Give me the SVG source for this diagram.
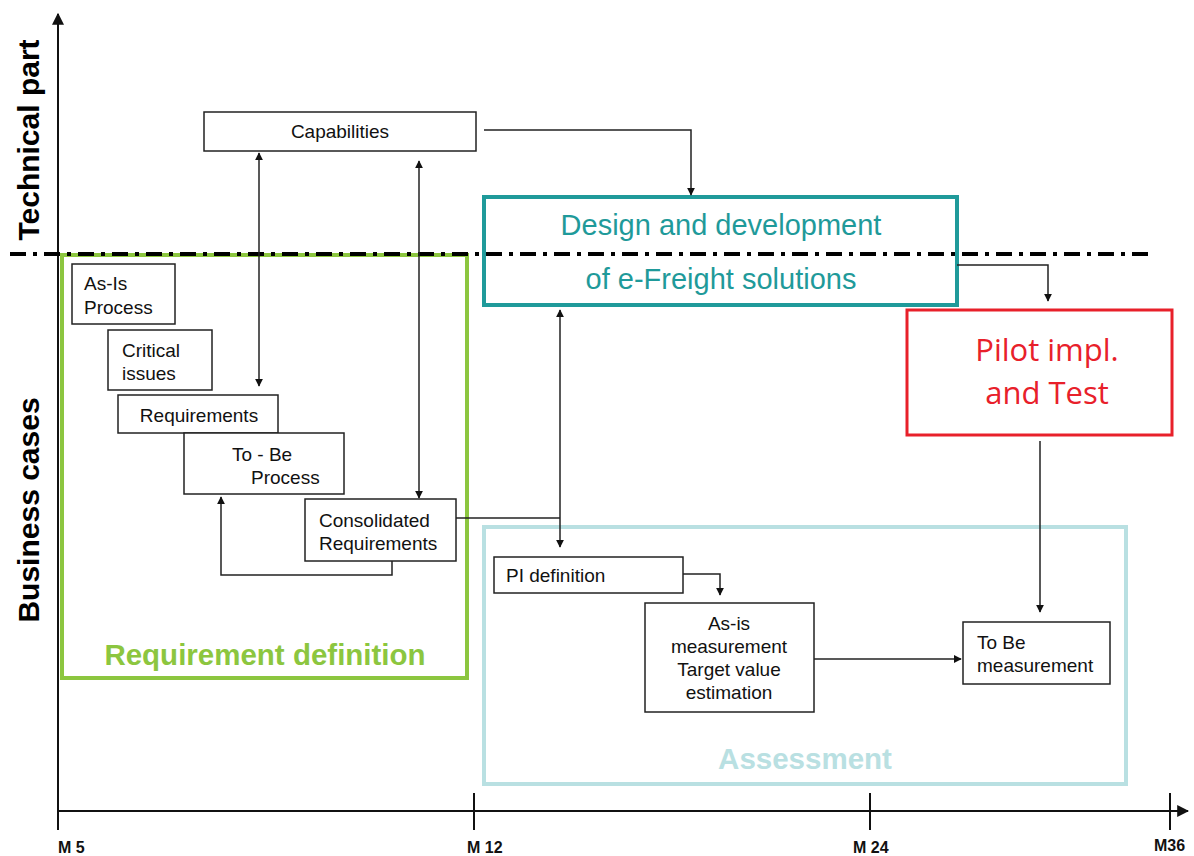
<svg xmlns="http://www.w3.org/2000/svg" width="1194" height="856" viewBox="0 0 1194 856">
<defs>
<marker id="ah" viewBox="0 0 10 10" refX="9" refY="5" markerWidth="8" markerHeight="8" markerUnits="userSpaceOnUse" orient="auto-start-reverse"><path d="M0,0 L10,5 L0,10 z" fill="#111"/></marker>
<marker id="axh" viewBox="0 0 10 10" refX="9" refY="5" markerWidth="12" markerHeight="12" markerUnits="userSpaceOnUse" orient="auto"><path d="M0,0 L10,5 L0,10 z" fill="#111"/></marker>
</defs>
<style>
.box{fill:#fff;stroke:#222;stroke-width:1.5}
.t{font-family:"Liberation Sans",Arial,sans-serif;font-size:19px;fill:#111}
.c{stroke:#222;stroke-width:1.5;fill:none}
.ax{stroke:#111;stroke-width:2;fill:none}
.lab{font-family:"Liberation Sans",Arial,sans-serif;font-weight:bold;font-size:30px;fill:#000}
.ml{font-family:"Liberation Sans",Arial,sans-serif;font-weight:bold;font-size:16px;fill:#111}
.big{font-family:"Liberation Sans",Arial,sans-serif;font-size:29px}
.pil{font-family:"Open Sans","Liberation Sans",sans-serif;font-size:31px;fill:#e8202a}
</style>
<rect width="1194" height="856" fill="#fff"/>
<g id="axes">
<line class="ax" x1="58" y1="830" x2="58" y2="14" marker-end="url(#axh)"/>
<line class="ax" x1="58" y1="811" x2="1188" y2="811" marker-end="url(#axh)"/>
<line class="ax" x1="474" y1="793" x2="474" y2="830"/>
<line class="ax" x1="870" y1="793" x2="870" y2="830"/>
<line class="ax" x1="1170" y1="793" x2="1170" y2="830"/>
<text class="ml" x="58" y="853">M 5</text>
<text class="ml" x="467" y="853">M 12</text>
<text class="ml" x="853" y="853">M 24</text>
<text class="ml" x="1154" y="851">M36</text>
<text class="lab" transform="translate(39,140) rotate(-90)" text-anchor="middle">Technical part</text>
<text class="lab" transform="translate(39,510) rotate(-90)" text-anchor="middle">Business cases</text>
</g>
<g id="requirement-definition">
<rect x="62" y="255" width="405" height="423" fill="none" stroke="#8cc63f" stroke-width="4"/>
<text x="265" y="665" text-anchor="middle" font-family="Liberation Sans,Arial,sans-serif" font-weight="bold" font-size="29.5" fill="#8cc63f">Requirement definition</text>
</g>
<g id="assessment">
<rect x="484" y="527" width="642" height="257" fill="none" stroke="#b9e0e2" stroke-width="4"/>
<text x="805" y="769" text-anchor="middle" font-family="Liberation Sans,Arial,sans-serif" font-weight="bold" font-size="29.5" fill="#b9e0e2">Assessment</text>
</g>
<line id="separator" x1="10" y1="254" x2="1152" y2="254" stroke="#000" stroke-width="4" stroke-dasharray="16 7 4 7"/>
<g id="design">
<rect x="484" y="197" width="473" height="108" fill="none" stroke="#1f9a9a" stroke-width="4"/>
<text class="big" x="721" y="235" text-anchor="middle" fill="#1f9a9a">Design and development</text>
<text class="big" x="721" y="289" text-anchor="middle" fill="#1f9a9a">of e-Freight solutions</text>
</g>
<g id="pilot">
<rect x="907" y="310" width="265" height="125" fill="#fff" stroke="#e8202a" stroke-width="3"/>
<text class="pil" x="1047" y="361" text-anchor="middle">Pilot impl.</text>
<text class="pil" x="1047" y="404" text-anchor="middle">and Test</text>
</g>
<g id="capabilities">
<rect class="box" x="204" y="112" width="272" height="39"/>
<text class="t" x="340" y="138" text-anchor="middle">Capabilities</text>
</g>
<g id="as-is-process">
<rect class="box" x="72" y="264" width="103" height="60"/>
<text class="t" x="84" y="290">As-Is</text>
<text class="t" x="84" y="314">Process</text>
</g>
<g id="critical-issues">
<rect class="box" x="108" y="330" width="104" height="60"/>
<text class="t" x="122" y="357">Critical</text>
<text class="t" x="122" y="380">issues</text>
</g>
<g id="requirements">
<rect class="box" x="118" y="395" width="160" height="38"/>
<text class="t" x="199" y="422" text-anchor="middle">Requirements</text>
</g>
<g id="to-be-process">
<rect class="box" x="184" y="433" width="160" height="61"/>
<text class="t" x="232" y="461">To - Be</text>
<text class="t" x="251" y="484">Process</text>
</g>
<g id="consolidated">
<rect class="box" x="305" y="499" width="151" height="62"/>
<text class="t" x="319" y="527">Consolidated</text>
<text class="t" x="319" y="550">Requirements</text>
</g>
<g id="pi-definition">
<rect class="box" x="494" y="557" width="189" height="36"/>
<text class="t" x="506" y="582">PI definition</text>
</g>
<g id="as-is-measurement">
<rect class="box" x="645" y="603" width="169" height="109"/>
<text class="t" x="729" y="630" text-anchor="middle">As-is</text>
<text class="t" x="729" y="653" text-anchor="middle">measurement</text>
<text class="t" x="729" y="676" text-anchor="middle">Target value</text>
<text class="t" x="729" y="699" text-anchor="middle">estimation</text>
</g>
<g id="to-be-measurement">
<rect class="box" x="963" y="622" width="147" height="62"/>
<text class="t" x="977" y="649">To Be</text>
<text class="t" x="977" y="672">measurement</text>
</g>
<g id="connectors">
<path class="c" d="M484,130 H691 V195" marker-end="url(#ah)"/>
<path class="c" d="M957,265 H1048 V301" marker-end="url(#ah)"/>
<path class="c" d="M1040,441 V612" marker-end="url(#ah)"/>
<path class="c" d="M259,153 V386" marker-start="url(#ah)" marker-end="url(#ah)"/>
<path class="c" d="M419,161 V498" marker-start="url(#ah)" marker-end="url(#ah)"/>
<path class="c" d="M392,561 V575 H221 V497" marker-end="url(#ah)"/>
<path class="c" d="M560,310 V547" marker-start="url(#ah)" marker-end="url(#ah)"/>
<path class="c" d="M456,518 H560"/>
<path class="c" d="M683,574 H720 V595" marker-end="url(#ah)"/>
<path class="c" d="M814,659 H961" marker-end="url(#ah)"/>
</g>
</svg>
